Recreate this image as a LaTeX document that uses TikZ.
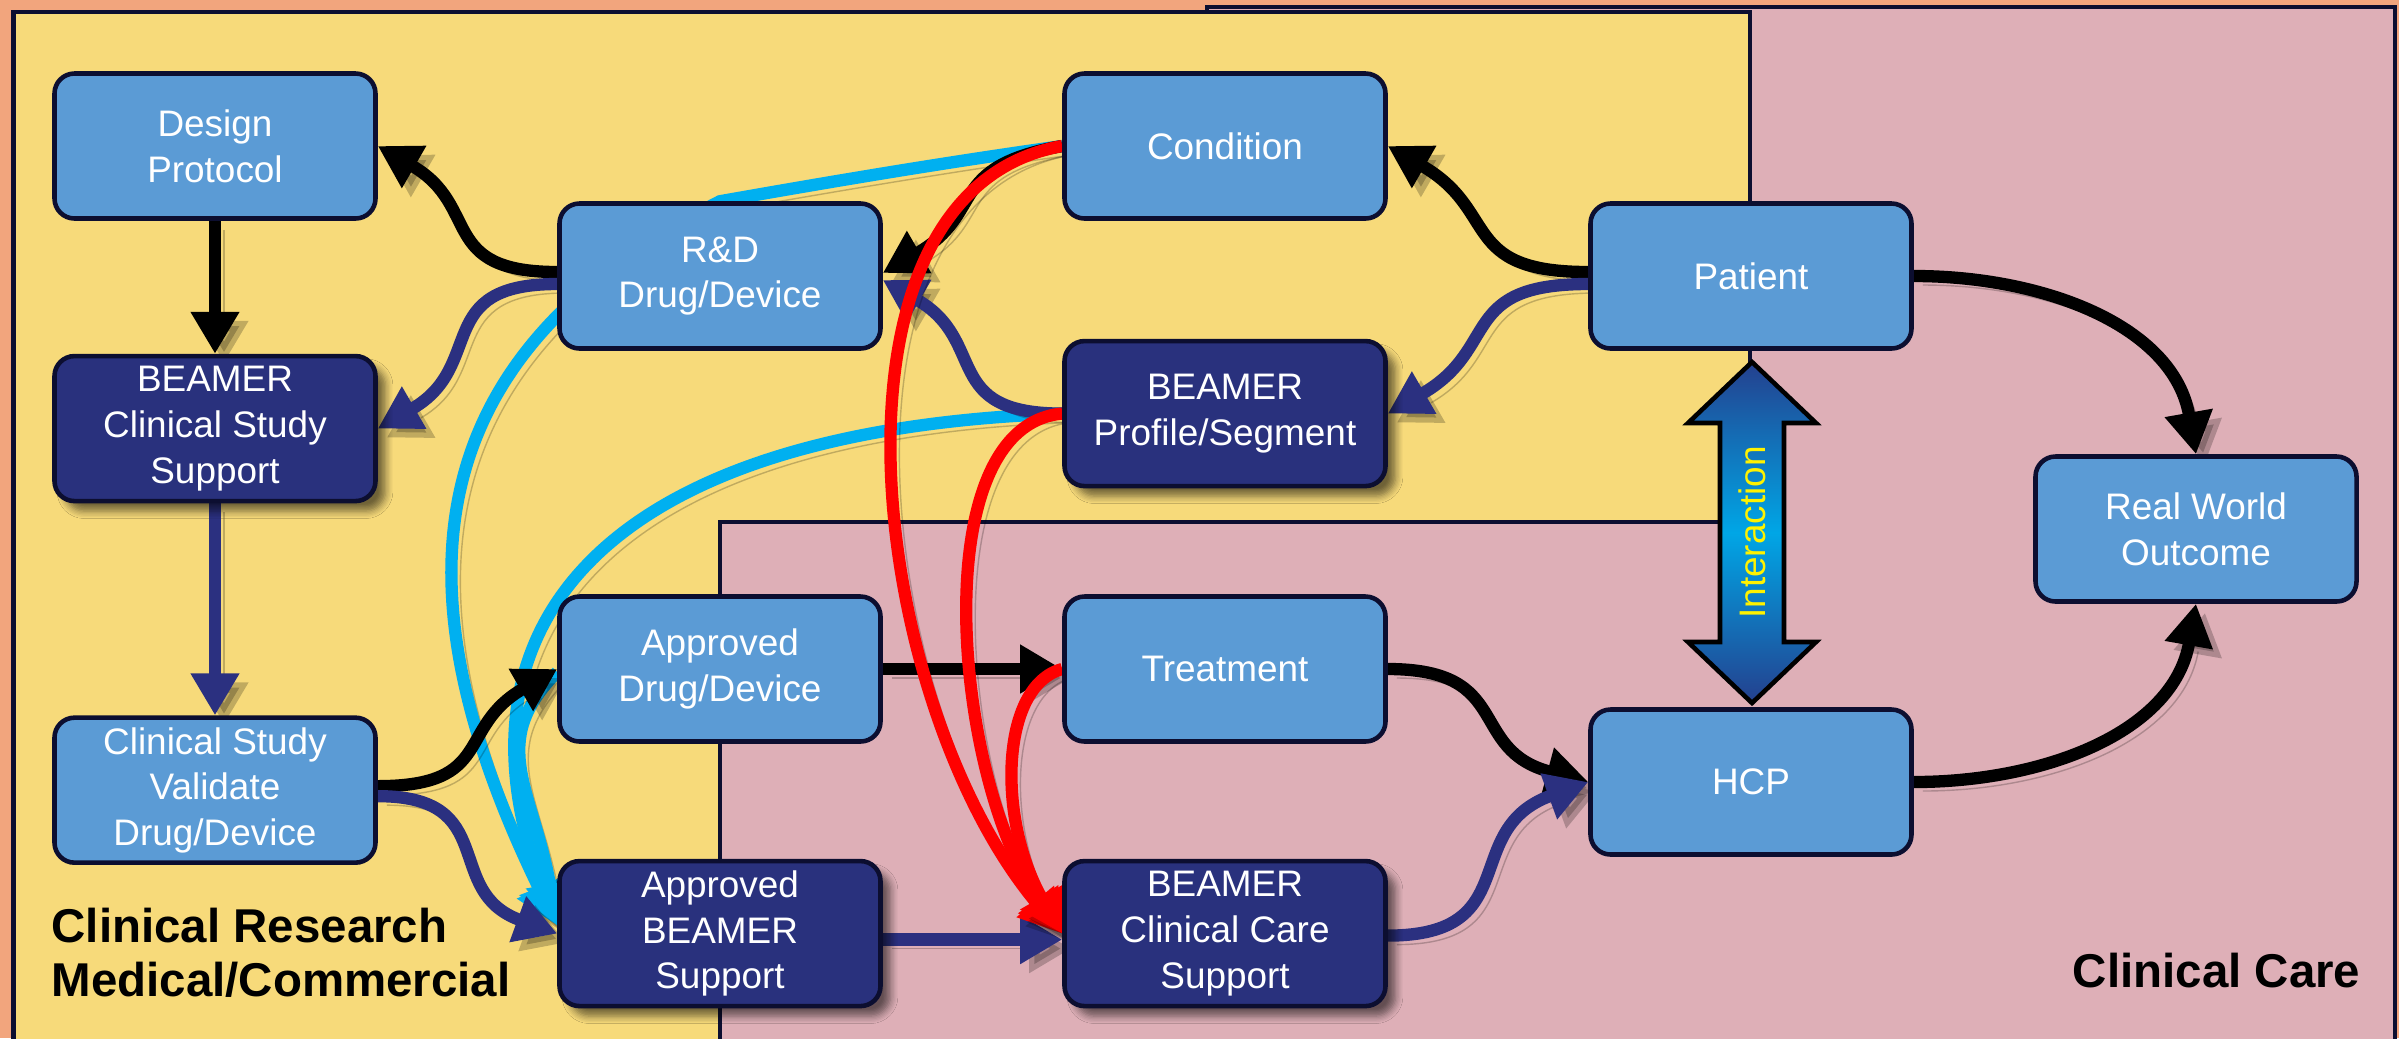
\documentclass[tikz,border=0pt]{standalone}
\usepackage{fontspec}
\setmainfont{Liberation Sans}
\usepackage{xcolor}
\usepackage{tikz}
\usetikzlibrary{arrows.meta,positioning,shadows.blur}
\definecolor{bgorange}{RGB}{242,165,125}
\definecolor{resyellow}{RGB}{247,218,122}
\definecolor{carepink}{RGB}{222,175,183}
\definecolor{boxblue}{RGB}{91,155,213}
\definecolor{boxnavy}{RGB}{41,49,125}
\definecolor{edgenavy}{RGB}{12,14,48}
\definecolor{linknavy}{RGB}{43,48,128}
\definecolor{linkcyan}{RGB}{0,176,240}
\definecolor{interdark}{RGB}{36,64,142}
\definecolor{interlight}{RGB}{0,166,230}

\pgfdeclarelayer{background}
\pgfdeclarelayer{links}
\pgfsetlayers{background,links,main}

\begin{document}
\begin{tikzpicture}[node distance=1.15cm,
    box/.style={rectangle, rounded corners=0.2cm, draw=edgenavy, line width=1.3pt,
                fill=boxblue, text=white, minimum width=3.21cm, minimum height=1.45cm,
                inner sep=1pt, align=center, font=\fontsize{10.5}{13}\selectfont},
    darkbox/.style={box, fill=boxnavy,
                blur shadow={shadow xshift=0.1cm, shadow yshift=-0.1cm, shadow blur steps=6, shadow opacity=55}},
    link/.style={line width=3.5pt, -{Triangle[length=0.42cm,width=0.46cm]},
                preaction={draw=black, opacity=0.22, transform canvas={xshift=0.09cm,yshift=-0.09cm}}},
    blkarrow/.style={link, draw=black},
    navyarrow/.style={link, draw=linknavy},
    redarrow/.style={link, draw=red},
    cyanarrow/.style={link, draw=linkcyan},
    area/.style={draw=edgenavy, line width=1.4pt},
    title/.style={font=\fontsize{13.5}{15.2}\selectfont\bfseries, inner sep=0pt, align=left}]

\useasboundingbox (0,0) rectangle (23.99,-10.38);

% research side
\node[box] (design) at (2.15,-1.46) {Design\\Protocol};
\node[darkbox, below=1.33cm of design] (clinsup) {BEAMER\\Clinical Study\\Support};
\node[box, below=2.12cm of clinsup] (validate) {Clinical Study\\Validate\\Drug/Device};
\node[box] (rnd) at (7.20,-2.76) {R\&D\\Drug/Device};
\node[box] (approved) at (7.20,-6.69) {Approved\\Drug/Device};
\node[darkbox, below=1.15cm of approved] (apsupport) {Approved\\BEAMER\\Support};
\node[box] (condition) at (12.25,-1.46) {Condition};
\node[darkbox, below=1.18cm of condition] (profile) {BEAMER\\Profile/Segment};
\node[box] (treatment) at (12.25,-6.69) {Treatment};
\node[darkbox, below=1.15cm of treatment] (ccsupport) {BEAMER\\Clinical Care\\Support};

% care side
\node[box] (patient) at (17.51,-2.76) {Patient};
\node[box] (hcp) at (17.51,-7.82) {HCP};
\node[box] (rwo) at (21.96,-5.29) {Real World\\Outcome};

\node[title, anchor=south west] (research) at (0.51,-9.98) {Clinical Research\\Medical/Commercial};
\node[title, anchor=base east] (care) at (23.61,-9.87) {Clinical Care};

% interaction arrow
\draw[black, line width=1.3pt, top color=interdark, bottom color=interdark, middle color=interlight]
    (17.52,-3.62) -- (18.16,-4.23) -- (17.84,-4.23) -- (17.84,-6.42) -- (18.16,-6.42)
    -- (17.52,-7.03) -- (16.88,-6.42) -- (17.20,-6.42) -- (17.20,-4.23) -- (16.88,-4.23) -- cycle;
\node[rotate=90, text=yellow, font=\fontsize{10.5}{13}\selectfont] (inter) at (17.52,-5.325) {Interaction};

\begin{pgfonlayer}{background}
\fill[bgorange] (0,0) rectangle (23.99,-10.38);
\draw[area, fill=carepink] (12.07,-0.07) -- (23.95,-0.07) -- (23.95,-10.6) -- (7.20,-10.6)
    -- (7.20,-5.22) -- (12.07,-5.22) -- cycle;
\draw[area, fill=resyellow] (0.135,-0.12) -- (17.50,-0.12) -- (17.50,-5.22) -- (7.20,-5.22)
    -- (7.20,-10.6) -- (0.135,-10.6) -- cycle;
\end{pgfonlayer}

\begin{pgfonlayer}{links}
% cyan
\draw[cyanarrow] (condition.west) to[out=188,in=10,out distance=1.2cm,in distance=1.2cm] (rnd.north)
    to[out=207,in=116,out distance=3.4cm,in distance=3.8cm] ([yshift=0.08cm]apsupport.west);
\draw[cyanarrow] (profile.west) to[out=182,in=111,out distance=4.6cm,in distance=3.2cm] ([yshift=0.08cm]apsupport.west);
\draw[cyanarrow] ([yshift=-0.03cm]approved.west) to[out=225,in=100,out distance=1cm,in distance=1.4cm] ([yshift=0.08cm]apsupport.west);

% black
\draw[blkarrow] (design) -- (clinsup);
\draw[blkarrow] (approved) -- (treatment);
\draw[blkarrow] ([yshift=0.04cm]rnd.west) to[out=180,in=-30,looseness=1.4] (design.east);
\draw[blkarrow] (condition.west) to[out=190,in=30,looseness=1.4] ([yshift=0.03cm]rnd.east);
\draw[blkarrow] ([yshift=0.04cm]patient.west) to[out=180,in=-30,looseness=1.4] (condition.east);
\draw[blkarrow] ([yshift=0.04cm]validate.east) to[out=0,in=210,looseness=1.4] (approved.west);
\draw[blkarrow] (treatment.east) to[out=0,in=165,looseness=1.4] (hcp.west);
\draw[blkarrow] (patient.east) to[out=0,in=100] (rwo.north);
\draw[blkarrow] (hcp.east) to[out=0,in=-100] (rwo.south);

% navy
\draw[navyarrow] (clinsup) -- (validate);
\draw[navyarrow] ([yshift=-0.06cm]apsupport.east) -- ([yshift=-0.06cm]ccsupport.west);
\draw[navyarrow] ([yshift=-0.08cm]rnd.west) to[out=180,in=30,looseness=1.4] (clinsup.east);
\draw[navyarrow] (profile.west) to[out=180,in=-30,looseness=1.4] ([yshift=-0.04cm]rnd.east);
\draw[navyarrow] ([yshift=-0.08cm]patient.west) to[out=180,in=30,looseness=1.4] (profile.east);
\draw[navyarrow] ([yshift=-0.06cm]validate.east) to[out=0,in=160,looseness=1.4] (apsupport.west);
\draw[navyarrow] ([yshift=-0.02cm]ccsupport.east) to[out=0,in=200,looseness=1.4] (hcp.west);

% red
\draw[redarrow] (condition.west) to[out=190,in=130,out distance=2.6cm,in distance=3cm] (ccsupport.west);
\draw[redarrow] (profile.west) to[out=185,in=125,out distance=1.4cm,in distance=1.9cm] (ccsupport.west);
\draw[redarrow] (treatment.west) to[out=195,in=120,out distance=0.65cm,in distance=1.3cm] (ccsupport.west);
\end{pgfonlayer}

\end{tikzpicture}
\end{document}
